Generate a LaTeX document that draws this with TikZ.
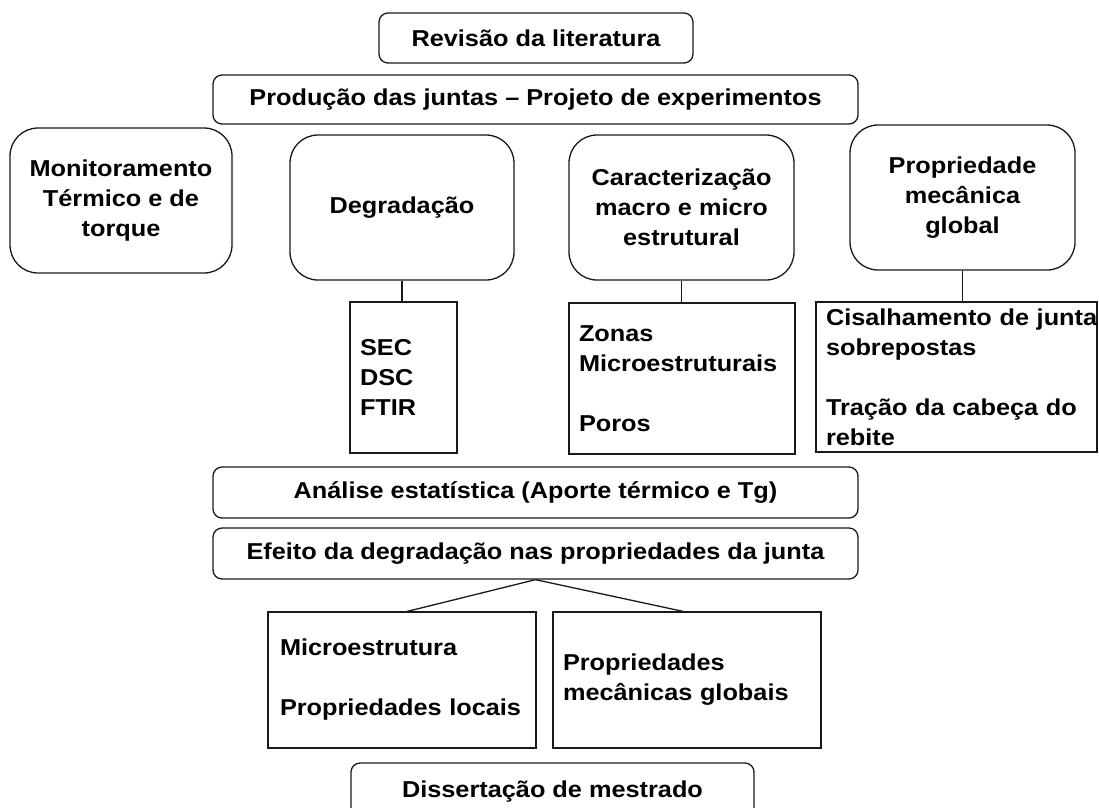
\documentclass[tikz,border=0pt]{standalone}
\usepackage{fontspec}
\setmainfont{Liberation Sans}[FakeStretch=1.1]
\usetikzlibrary{calc}
\tikzset{
  base/.style={draw=black!90, line width=1.3pt, inner sep=0pt, text=black,
    font=\fontsize{23}{30}\selectfont\bfseries},
  bigr/.style={base, rounded corners=28pt, align=center},
  thinr/.style={base, rounded corners=9pt, align=center},
  sq/.style={base, align=left, inner xsep=10pt},
  conn/.style={draw=black!90, line width=1.3pt}
}
\begin{document}
\begin{tikzpicture}[x=1pt,y=-1pt]
\useasboundingbox (0,0) rectangle (1099,807);
\clip (0,0) rectangle (1099,807);
\node[thinr, minimum width=314pt, minimum height=50pt] (rev) at (536,38) {Revisão da literatura};
\node[thinr, minimum width=645pt, minimum height=49pt] (prod) at (535.5,99.5) {Produção das juntas – Projeto de experimentos};
\node[bigr, minimum width=222pt, minimum height=145pt] (mon) at (121,200.5) {Monitoramento\\Térmico e de\\torque};
\node[bigr, minimum width=224pt, minimum height=145pt] (deg) at (402,207.5) {Degradação};
\node[bigr, minimum width=225pt, minimum height=145pt] (car) at (681.5,207.5) {Caracterização\\macro e micro\\estrutural};
\node[bigr, minimum width=225pt, minimum height=145pt] (prop) at (962.5,197.5) {Propriedade\\mecânica\\global};
\node[sq, text width=87pt, minimum height=151pt] (sec) at (403.5,377.5) {SEC\\DSC\\FTIR};
\node[sq, text width=206pt, minimum height=151pt] (zon) at (682,378.5) {Zonas\\Microestruturais\\[30pt]Poros};
\node[sq, text width=261pt, minimum height=150pt] (cis) at (956.5,377) {\mbox{Cisalhamento de junta}\\sobrepostas\\[30pt]Tração da cabeça do\\rebite};
\node[thinr, minimum width=645pt, minimum height=51pt] (ana) at (535.5,492.5) {Análise estatística (Aporte térmico e Tg)};
\node[thinr, minimum width=645pt, minimum height=51pt] (efe) at (535.5,553.5) {Efeito da degradação nas propriedades da junta};
\node[sq, inner xsep=12pt, text width=244pt, minimum height=136pt] (mic) at (402,680) {Microestrutura\\[30pt]Propriedades locais};
\node[sq, text width=248pt, minimum height=136pt] (pm) at (687,680) {Propriedades\\mecânicas globais};
\node[thinr, minimum width=403pt, minimum height=58pt] (dis) at (552.5,792) {Dissertação de mestrado};
\draw[conn] (deg.south) -- (deg.south |- sec.north);
\draw[conn] (car.south) -- (car.south |- zon.north);
\draw[conn] (prop.south) -- (prop.south |- cis.north);
\draw[conn] (efe.south) -- ($(mic.north west)!0.52!(mic.north east)$);
\draw[conn] (efe.south) -- ($(pm.north west)!0.485!(pm.north east)$);
\end{tikzpicture}
\end{document}
